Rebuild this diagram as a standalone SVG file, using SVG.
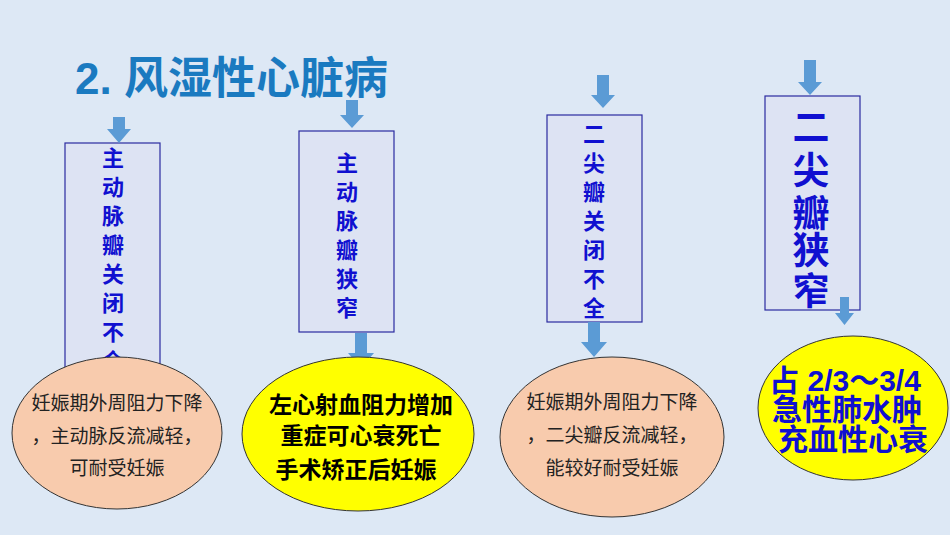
<svg xmlns="http://www.w3.org/2000/svg" width="950" height="535" viewBox="0 0 950 535">
<defs><style>
.bx{fill:#dde3f3;stroke:#2a2aa0;stroke-width:1.2}
.ar{fill:#5b9bd5}
.v{font-family:"Liberation Sans","Noto Sans CJK SC",sans-serif;font-weight:bold;fill:#1010d0;text-anchor:middle}
.e1{fill:#f8cbad;stroke:#333;stroke-width:1}
.e2{fill:#ffff00;stroke:#333;stroke-width:1}
.t{font-family:"Liberation Sans","Noto Sans CJK SC",sans-serif;text-anchor:middle;fill:#222;font-size:19px}
.tb{font-family:"Liberation Sans","Noto Sans CJK SC",sans-serif;text-anchor:middle;fill:#000;font-size:23px;font-weight:bold}
.tbl{font-family:"Liberation Sans","Noto Sans CJK SC",sans-serif;text-anchor:middle;fill:#1010d0;font-size:30px;font-weight:bold}
</style></defs>
<rect width="950" height="535" fill="#dde8f5"/>
<text x="75" y="94" font-family="Liberation Sans,Noto Sans CJK SC,sans-serif" font-size="44" font-weight="bold" fill="#1a7ac0">2. 风湿性心脏病</text>
<g id="n1">
<rect class="bx" x="65" y="143" width="95" height="230"/>
<text class="v" font-size="22" x="113"><tspan x="113" y="166">主</tspan><tspan x="113" y="195">动</tspan><tspan x="113" y="224">脉</tspan><tspan x="113" y="253">瓣</tspan><tspan x="113" y="282">关</tspan><tspan x="113" y="311">闭</tspan><tspan x="113" y="340">不</tspan><tspan x="113" y="369">全</tspan></text>
</g>
<g id="n2">
<rect class="bx" x="299" y="131" width="95" height="201"/>
<text class="v" font-size="22"><tspan x="347" y="171">主</tspan><tspan x="347" y="200">动</tspan><tspan x="347" y="229">脉</tspan><tspan x="347" y="258">瓣</tspan><tspan x="347" y="287">狭</tspan><tspan x="347" y="316">窄</tspan></text>
</g>
<g id="n3">
<rect class="bx" x="547" y="115" width="95" height="207"/>
<text class="v" font-size="22"><tspan x="594" y="142">二</tspan><tspan x="594" y="171">尖</tspan><tspan x="594" y="200">瓣</tspan><tspan x="594" y="229">关</tspan><tspan x="594" y="258">闭</tspan><tspan x="594" y="287">不</tspan><tspan x="594" y="316">全</tspan></text>
</g>
<g id="n4">
<rect class="bx" x="765" y="96" width="95" height="214"/>
<text class="v" font-size="37"><tspan x="811" y="141">二</tspan><tspan x="811" y="184">尖</tspan><tspan x="811" y="227">瓣</tspan><tspan x="811" y="264">狭</tspan><tspan x="811" y="305">窄</tspan></text>
</g>
<g id="connectors">
<path class="ar" d="M113,117h12v12h6l-12,14l-12,-14h6z"/>
<path class="ar" d="M346,100h12v15h6l-12,13l-12,-13h6z"/>
<path class="ar" d="M355,333h12v20h7l-13,15l-13,-15h7z"/>
<path class="ar" d="M597,75h12v20h6l-12,13l-12,-13h6z"/>
<path class="ar" d="M588,322h12v20h7l-13,15l-13,-15h7z"/>
<path class="ar" d="M804,60h12v22h6l-12,13l-12,-13h6z"/>
<path class="ar" d="M840,297h9v16h5l-9.5,12l-9.5,-12h5z"/>
</g>
<g id="e1"><ellipse class="e1" cx="117" cy="433" rx="105" ry="76"/>
<text class="t"><tspan x="117" y="410">妊娠期外周阻力下降</tspan><tspan x="117" y="443">，主动脉反流减轻，</tspan><tspan x="117" y="475">可耐受妊娠</tspan></text></g>
<g id="e2"><ellipse class="e2" cx="358" cy="434" rx="116" ry="77"/>
<text class="tb"><tspan x="361" y="413">左心射血阻力增加</tspan><tspan x="361" y="444">重症可心衰死亡</tspan><tspan x="356" y="478">手术矫正后妊娠</tspan></text></g>
<g id="e3"><ellipse class="e1" cx="612" cy="437" rx="112" ry="80"/>
<text class="t"><tspan x="612" y="409">妊娠期外周阻力下降</tspan><tspan x="612" y="442">，二尖瓣反流减轻，</tspan><tspan x="612" y="475">能较好耐受妊娠</tspan></text></g>
<g id="e4"><ellipse class="e2" cx="853" cy="408" rx="95" ry="72"/>
<text class="tbl"><tspan x="845" y="391">占 2/3～3/4</tspan><tspan x="847" y="420">急性肺水肿</tspan><tspan x="853" y="450">充血性心衰</tspan></text></g>
</svg>
